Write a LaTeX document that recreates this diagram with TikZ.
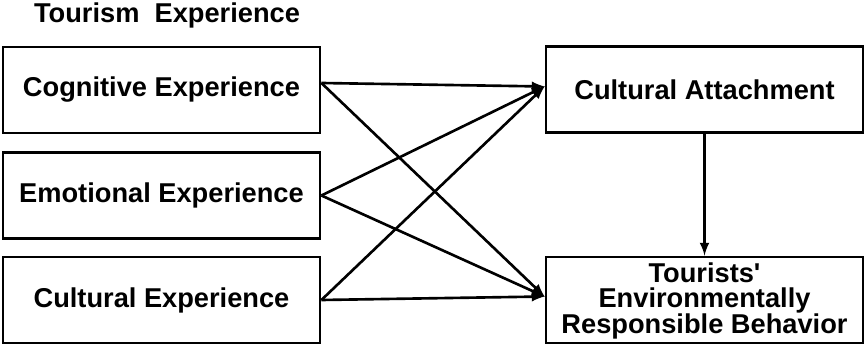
\documentclass[tikz,border=0pt]{standalone}
\usepackage{fontspec}
\setmainfont{Liberation Sans}[Ligatures=TeXOff]
\usetikzlibrary{positioning}
\begin{document}
\begin{tikzpicture}[>=latex, auto, node distance=2.11cm,
    every node/.style={font=\bfseries\fontsize{15.5}{14.5}\selectfont},
    factor/.style={draw, rectangle, line width=1.6pt, minimum width=6.34cm, minimum height=1.72cm, inner sep=0pt, align=center}]
    \useasboundingbox (0,0) rectangle (17.3,-6.94);
    \node[anchor=base] (title) at (3.34,-0.45) {Tourism\ \ Experience};
    \node[factor] (cog) at (3.23,-1.80) {Cognitive Experience};
    \node[factor, below of=cog] (emo) {Emotional Experience};
    \node[factor, below of=emo, node distance=2.09cm] (cul) {Cultural Experience};
    \node[factor, right of=cog, node distance=10.86cm, yshift=0.01cm] (att) {Cultural Attachment};
    \node[factor, right of=cul, node distance=10.86cm, text depth=0.08cm] (erb) {Tourists'\\Environmentally\\Responsible Behavior};

    \coordinate (cogout) at ([yshift=0.14cm]cog.east);
    \coordinate (attin) at ([yshift=0.06cm]att.west);
    \coordinate (erbin) at ([yshift=0.07cm]erb.west);

    \draw[->, line width=1.5pt] (cogout) -- (attin);
    \draw[->, line width=1.5pt] (cogout) -- (erbin);
    \draw[->, line width=1.5pt] (emo.east) -- (attin);
    \draw[->, line width=1.5pt] (emo.east) -- (erbin);
    \draw[->, line width=1.5pt] (cul.east) -- (attin);
    \draw[->, line width=1.5pt] (cul.east) -- (erbin);
    \draw[->, line width=1.5pt] (att) -- (erb);
\end{tikzpicture}
\end{document}
